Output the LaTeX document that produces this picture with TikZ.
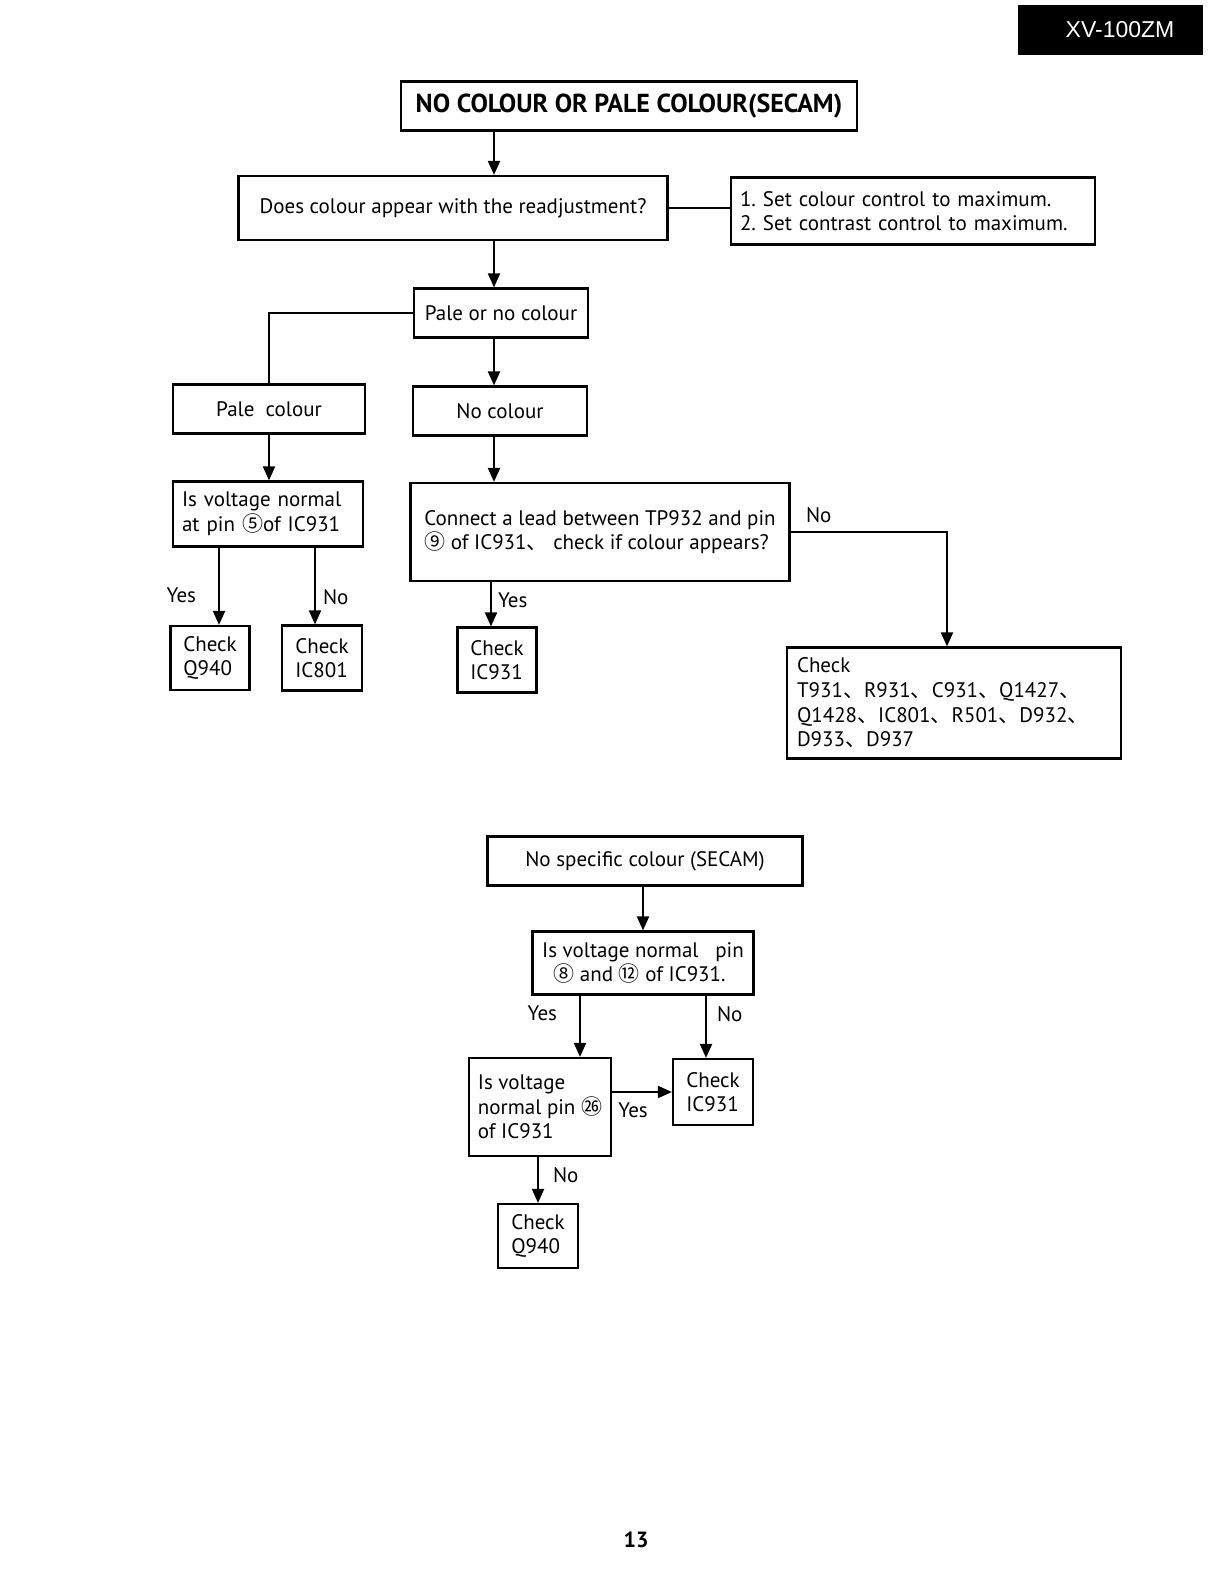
\documentclass[tikz,border=0pt]{standalone}
\usepackage{fontspec}
\setmainfont{PT Sans}
\newfontfamily\cjk{Noto Sans CJK SC}
\newfontfamily\hdfont{Liberation Sans}
\usetikzlibrary{arrows.meta, positioning, calc}
\newcommand{\cn}[1]{{\cjk #1}}
\frenchspacing
\tikzset{
  flow/.style 2 args={rectangle, draw, line width=1.1pt, inner sep=0pt,
                      minimum width=#1*0.5pt, minimum height=#2*0.5pt,
                      align=left, font=\fontsize{10.5}{12.3}\selectfont},
  lflow/.style={text width=#1, inner xsep=4.5pt},
  arr/.style={-{Triangle[length=7pt, width=6pt]}, line width=1pt},
  lnk/.style={line width=1pt},
  lbl/.style={font=\fontsize{10.5}{12}\selectfont, inner sep=1pt},
}

\begin{document}
\begin{tikzpicture}[x=0.5pt, y=-0.5pt]
\useasboundingbox (0,0) rectangle (1224,1584);

% page header
\node[fill=black, minimum width=92.5pt, minimum height=25pt, text=white,
      font=\hdfont\fontsize{11.5}{12}\selectfont] (model) at (1110,30) {\hspace*{10pt}XV-100ZM};

% upper chart
\node[flow={456}{49}, font=\bfseries\fontsize{13}{14}\selectfont] (title) at (629,106) {NO COLOUR OR PALE COLOUR(SECAM)};
\node[flow={429}{64}] (does) at (453,208) {Does colour appear with the readjustment?};
\node[flow={363}{67}, lflow=173pt] (note) at (913,211) {1. Set colour control to maximum.\\2. Set contrast control to maximum.};
\node[flow={174}{49}] (paleor) at (501,313) {Pale or no colour};
\node[flow={192}{49}] (pale) at (269,409) {Pale\ \ colour};
\node[flow={174}{49}] (nocol) at (500,411) {No colour};
\node[flow={190}{65}, lflow=86pt] (isv) at (268,514) {Is voltage normal\\at pin \cn{⑤}of IC931};
\node[flow={379}{98}] (connect) at (600,532) {Connect a lead between TP932 and pin\\\cn{⑨} of IC931\cn{、} check if colour appears?};
\node[flow={79}{64}] (ckq) at (210,658) {Check\\Q940};
\node[flow={80}{65}] (ckic801) at (322,658) {Check\\IC801};
\node[flow={79}{65}] (ckic) at (497,660) {Check\\IC931};
\node[flow={334}{111}, lflow=157pt] (cklist) at (954,703)
  {Check\\T931\cn{、}R931\cn{、}C931\cn{、}Q1427\cn{、}\\Q1428\cn{、}IC801\cn{、}R501\cn{、}D932\cn{、}\\D933\cn{、}D937};

\coordinate (s1) at (494,0);
\coordinate (s2) at (219,0);
\coordinate (s3) at (315,0);
\coordinate (s4) at (491,0);
\coordinate (s5) at (947,0);

\draw[arr] (title.south -| s1) -- (does.north -| s1);
\draw[lnk] (does.east) -- (does.east -| note.west);
\draw[arr] (does.south -| s1) -- (paleor.north -| s1);
\draw[lnk] (paleor.west) -| (pale.north);
\draw[arr] (paleor.south -| s1) -- (nocol.north -| s1);
\draw[arr] (pale.south) -- (isv.north -| pale.south);
\draw[arr] (nocol.south -| s1) -- (connect.north -| s1);
\draw[arr] (isv.south -| s2) -- node[lbl, left=10pt, pos=.62] {Yes} (ckq.north -| s2);
\draw[arr] (isv.south -| s3) -- node[lbl, right=2.5pt, pos=.65] {No} (ckic801.north -| s3);
\draw[arr] (connect.south -| s4) -- node[lbl, right=2pt, pos=.4] {Yes} (ckic.north -| s4);
\draw[arr] (connect.east) -| node[lbl, above=3pt, pos=.09] {No} (cklist.north -| s5);

% lower chart
\node[flow={315}{49}] (nospec) at (645,861) {No specific colour (SECAM)};
\node[flow={221}{63}] (isv8) at (643,963) {Is voltage normal\ \ \ pin\\\ \ \cn{⑧} and \cn{⑫} of IC931.};
\node[flow={142}{98}] (isv26) at (540,1107) {Is voltage\\normal pin \cn{㉖}\\of IC931};
\node[flow={80}{66}] (ckicb) at (713,1092) {Check\\IC931};
\node[flow={80}{64}] (ckqb) at (538,1236) {Check\\Q940};

\coordinate (s6) at (580,0);
\coordinate (s7) at (706,0);

\draw[arr] (nospec.south -| isv8.north) -- (isv8.north);
\draw[arr] (isv8.south -| s6) -- node[lbl, left=10pt, pos=.28] {Yes} (isv26.north -| s6);
\draw[arr] (isv8.south -| s7) -- node[lbl, right=4pt, pos=.3] {No} (ckicb.north -| s7);
\draw[arr] (isv26.east |- ckicb.west) -- node[lbl, below=4pt, pos=.35] {Yes} (ckicb.west);
\draw[arr] (isv26.south -| ckqb.north) -- node[lbl, right=6pt, pos=.4] {No} (ckqb.north);

% page number
\node[font=\bfseries\fontsize{11}{12}\selectfont] (pagenum) at (636,1540) {13};
\end{tikzpicture}
\end{document}
